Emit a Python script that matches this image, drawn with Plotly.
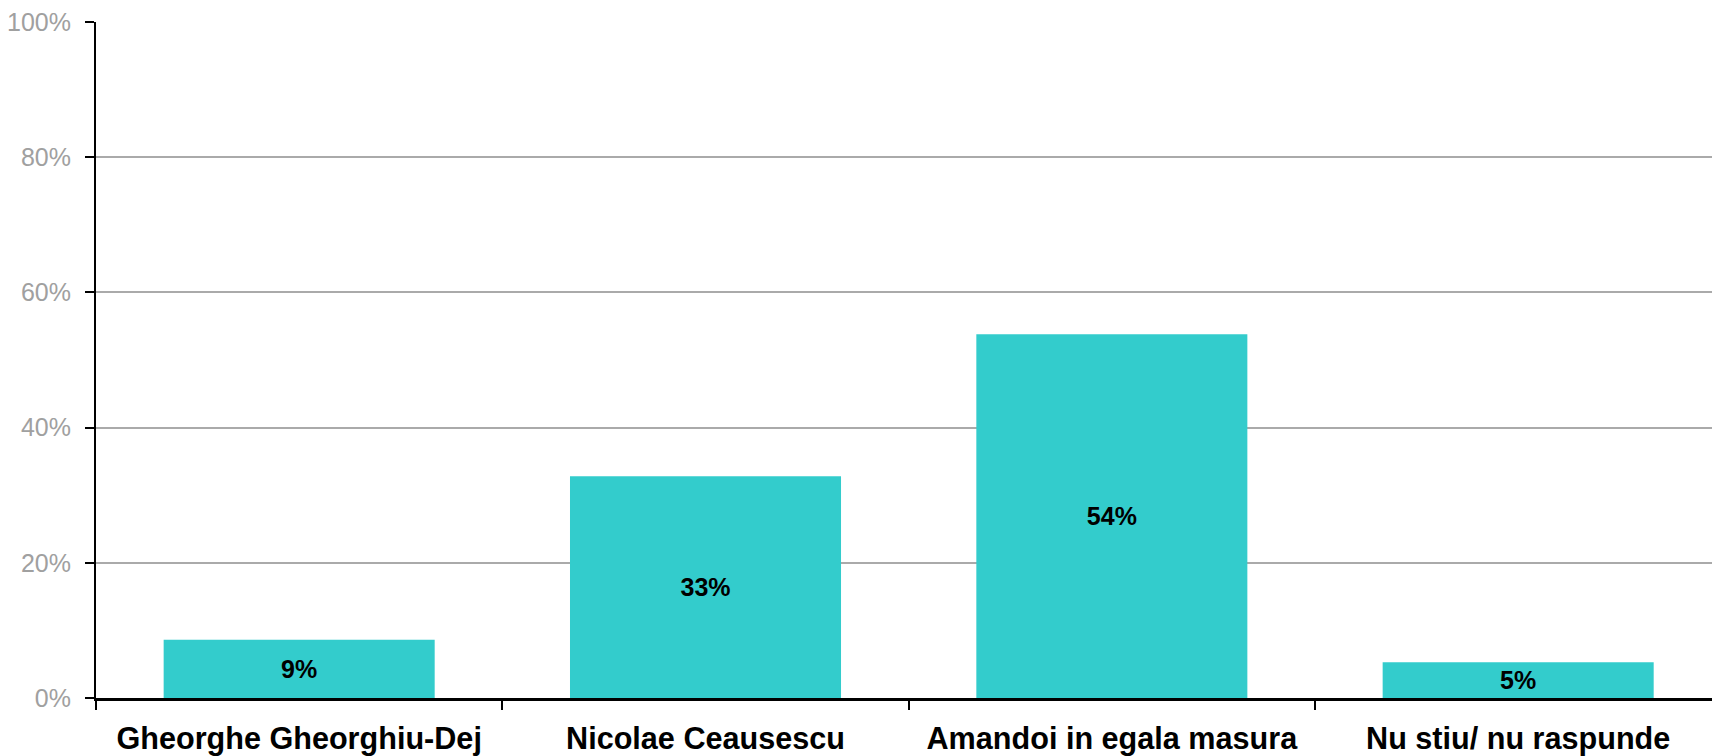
import plotly.graph_objects as go

categories = ["Gheorghe Gheorghiu-Dej", "Nicolae Ceausescu", "Amandoi in egala masura", "Nu stiu/ nu raspunde"]
values = [8.6, 32.8, 53.8, 5.3]
labels = ["9%", "33%", "54%", "5%"]
y_ticks = [0, 20, 40, 60, 80, 100]
y_tick_labels = ["0%", "20%", "40%", "60%", "80%", "100%"]

fig = go.Figure(data=[
    go.Bar(
        x=categories,
        y=values,
        text=labels,
        textposition="inside",
        insidetextanchor="middle",
        textangle=0,
        textfont=dict(size=25, color="black", family="Arial, Liberation Sans", weight="bold"),
        marker=dict(color="#33cccc", line=dict(width=0)),
        width=0.667,
        showlegend=False,
    )
])

fig.update_layout(
    width=1712,
    height=756,
    plot_bgcolor="white",
    paper_bgcolor="white",
    font=dict(family="Arial, Liberation Sans", size=25),
    margin=dict(l=96, r=0, t=22, b=58),
    uniformtext=dict(minsize=25, mode="show"),
    xaxis=dict(
        range=[-0.5, 3.477],
        automargin=False,
        showline=True,
        linecolor="black",
        linewidth=2.5,
        ticks="outside",
        tickson="boundaries",
        ticklen=9,
        tickwidth=2,
        tickcolor="black",
        ticklabelstandoff=12,
        tickfont=dict(size=30.6, color="black", weight="bold"),
        showgrid=False,
    ),
    yaxis=dict(
        range=[0, 100],
        automargin=False,
        tickvals=y_ticks,
        ticktext=y_tick_labels,
        showline=True,
        linecolor="black",
        linewidth=2,
        ticks="outside",
        ticklen=9,
        tickwidth=2,
        tickcolor="black",
        ticklabelstandoff=9,
        tickfont=dict(size=25, color="#a0a0a0"),
        showgrid=True,
        gridcolor="#aaaaaa",
        gridwidth=1.5,
        zeroline=False,
    ),
)

# drop the default page margin so the figure fills the window exactly
fig.write_html(
    "out.html",
    config={"displayModeBar": False},
    post_script="document.body.style.margin='0';document.body.style.overflow='hidden';",
)
